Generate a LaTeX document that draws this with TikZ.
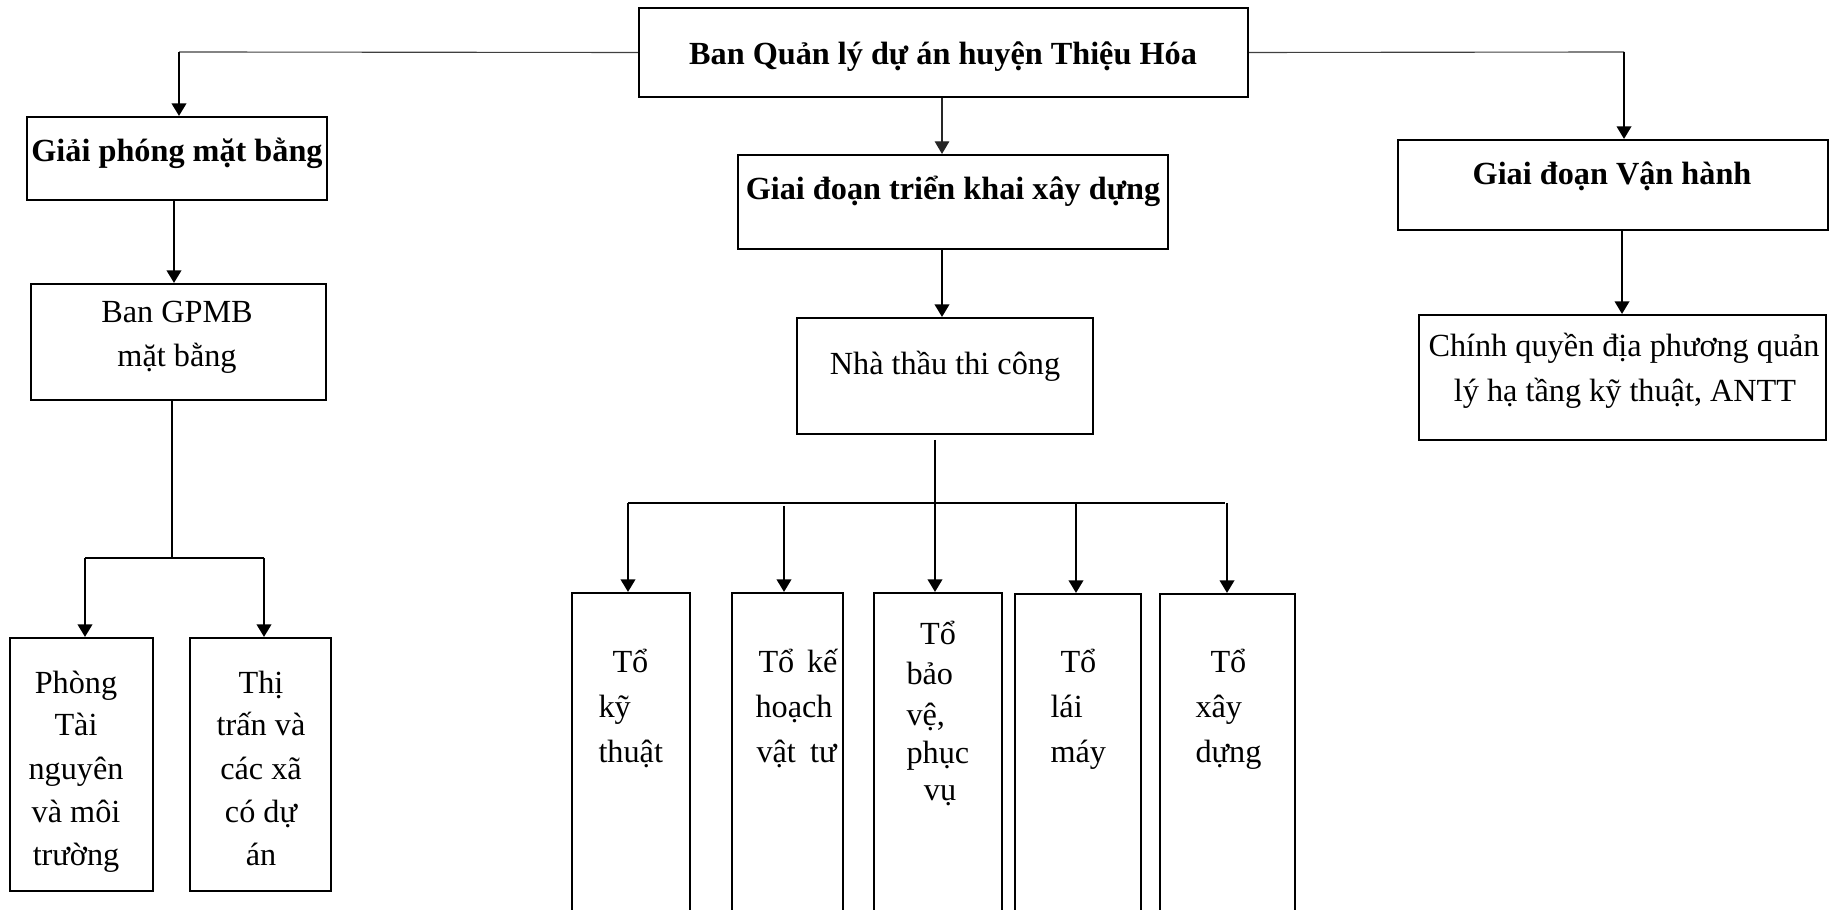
\documentclass[tikz,border=0pt]{standalone}
\usepackage{fontspec}
\setmainfont{Liberation Serif}
\usetikzlibrary{arrows.meta,fit}
\begin{document}
\begin{tikzpicture}[x=0.4pt,y=-0.4pt,
  box/.style={draw, line width=0.85pt, inner sep=0pt},
  txt/.style={inner sep=0pt, font=\fontsize{12.9}{16}\selectfont},
  btxt/.style={inner sep=0pt, font=\fontsize{12.9}{16}\selectfont\bfseries},
  ln/.style={line width=0.8pt},
  thinln/.style={line width=0.45pt, black!75},
  conn/.style={line width=0.8pt, -{Triangle[length=5pt,width=5.8pt]}},
  thinconn/.style={line width=0.45pt, black!85, -{Triangle[length=5pt,width=5.8pt]}}]
\useasboundingbox (0,0) rectangle (1844,910);
\clip (0,0) rectangle (1844,910);

% boxes
\node[box, fit={(639,8) (1248,97)}] (top) {};
\node[box, fit={(27,117) (327,200)}] (gpm) {};
\node[box, fit={(738,155) (1168,249)}] (gd) {};
\node[box, fit={(1398,140) (1828,230)}] (vh) {};
\node[box, fit={(31,284) (326,400)}] (ban) {};
\node[box, fit={(797,318) (1093,434)}] (nt) {};
\node[box, fit={(1419,315) (1826,440)}] (cq) {};
\node[box, fit={(10,638) (153,891)}] (phong) {};
\node[box, fit={(190,638) (331,891)}] (thi) {};
\node[box, fit={(572,593) (690,940)}] (t1) {};
\node[box, fit={(732,593) (843,940)}] (t2) {};
\node[box, fit={(874,593) (1002,940)}] (t3) {};
\node[box, fit={(1015,594) (1141,940)}] (t4) {};
\node[box, fit={(1160,594) (1295,940)}] (t5) {};

% headings
\node[btxt, anchor=base] (ttop) at (943,65) {Ban Quản lý dự án huyện Thiệu Hóa};
\node[btxt, anchor=base] (tgpm) at (177,162) {Giải phóng mặt bằng};
\node[btxt, anchor=base] (tgd) at (953,200) {Giai đoạn triển khai xây dựng};
\node[btxt, anchor=base] (tvh) at (1612,185) {Giai đoạn Vận hành};

% second level
\node[txt, anchor=base] (tban1) at (177,323) {Ban GPMB};
\node[txt, anchor=base] (tban2) at (177,367) {mặt bằng};
\node[txt, anchor=base] (tnt) at (945,375) {Nhà thầu thi công};
\node[txt, anchor=base] (tcq1) at (1624,357) {Chính quyền địa phương quản};
\node[txt, anchor=base] (tcq2) at (1625,402) {lý hạ tầng kỹ thuật, ANTT};

% third level left
\foreach \t [count=\i] in {Phòng, Tài, nguyên, và môi, trường}
  \node[txt, anchor=base] (tph\i) at (76,{693+43*(\i-1)}) {\t};
\foreach \t [count=\i] in {Thị, trấn và, các xã, có dự, án}
  \node[txt, anchor=base] (tth\i) at (261,{693+43*(\i-1)}) {\t};

% teams
\node[txt, anchor=base west] (ta1) at (612,673) {Tổ};
\node[txt, anchor=base west] (ta2) at (598,717) {kỹ};
\node[txt, anchor=base west] (ta3) at (598,762) {thuật};

\node[txt, anchor=base west] (tb1) at (758,673) {\makebox[31.6pt][s]{Tổ kế}};
\node[txt, anchor=base west] (tb2) at (755,717) {hoạch};
\node[txt, anchor=base west] (tb3) at (756,762) {\makebox[32pt][s]{vật tư}};

\node[txt, anchor=base] (tc1) at (938,645) {Tổ};
\node[txt, anchor=base west] (tc2) at (906,685) {bảo};
\node[txt, anchor=base west] (tc3) at (906,725) {vệ,};
\node[txt, anchor=base west] (tc4) at (906,763) {phục};
\node[txt, anchor=base] (tc5) at (940,800) {vụ};

\node[txt, anchor=base west] (td1) at (1060,673) {Tổ};
\node[txt, anchor=base west] (td2) at (1050,717) {lái};
\node[txt, anchor=base west] (td3) at (1050,762) {máy};

\node[txt, anchor=base west] (te1) at (1210,673) {Tổ};
\node[txt, anchor=base west] (te2) at (1195,717) {xây};
\node[txt, anchor=base west] (te3) at (1195,762) {dựng};

% connectors from top
\coordinate (jl) at (179,52);
\coordinate (jr) at (1624,52);
\draw[thinln] (top.west) -- (jl);
\draw[conn] (jl) -- (jl |- gpm.north);
\draw[thinln] (top.east) -- (jr);
\draw[conn] (jr) -- (jr |- vh.north);
\coordinate (mc) at (942,0);
\draw[thinconn] (top.south -| mc) -- (gd.north -| mc);
\draw[conn] (gd.south -| mc) -- (nt.north -| mc);

% left branch
\coordinate (lc) at (174,0);
\draw[conn] (gpm.south -| lc) -- (ban.north -| lc);
\coordinate (bs) at (172,558);
\coordinate (bl) at (85,558);
\coordinate (br) at (264,558);
\draw[ln] (ban.south -| bs) -- (bs);
\draw[ln] (bl) -- (br);
\draw[conn] (bl) -- (bl |- phong.north);
\draw[conn] (br) -- (br |- thi.north);

% right branch
\coordinate (rc) at (1622,0);
\draw[conn] (vh.south -| rc) -- (cq.north -| rc);

% teams branch
\coordinate (ns) at (935,440);
\coordinate (hl) at (628,503);
\coordinate (hr) at (1225,503);
\draw[ln] (hl) -- (hr);
\draw[conn] (ns) -- (ns |- t3.north);
\coordinate (a1) at (628,503);
\coordinate (a2) at (784,506);
\coordinate (a4) at (1076,503);
\coordinate (a5) at (1227,503);
\draw[conn] (a1) -- (a1 |- t1.north);
\draw[conn] (a2) -- (a2 |- t2.north);
\draw[conn] (a4) -- (a4 |- t4.north);
\draw[conn] (a5) -- (a5 |- t5.north);
\end{tikzpicture}
\end{document}
